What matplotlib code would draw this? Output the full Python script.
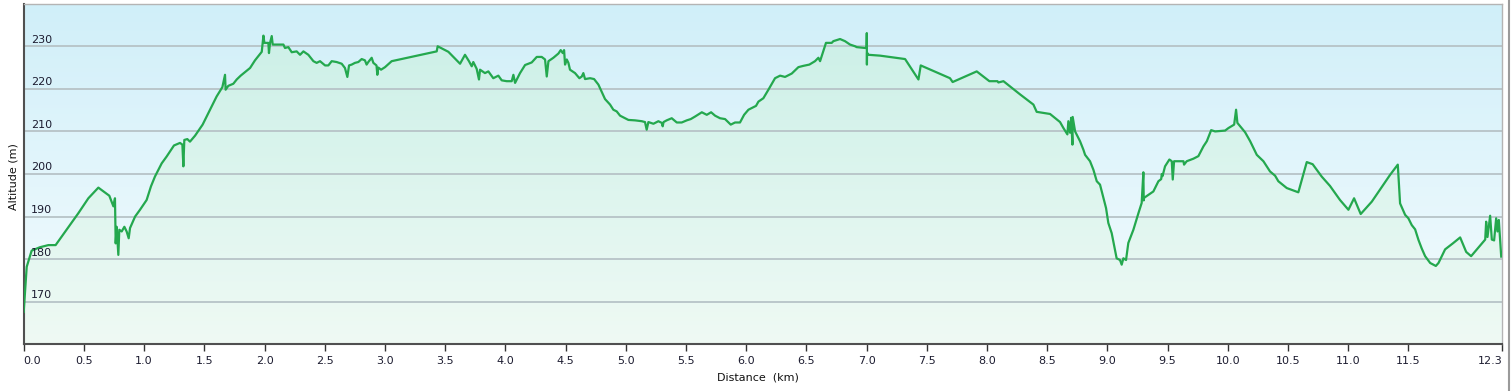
import numpy as np
import matplotlib
matplotlib.use('Agg')
import matplotlib.pyplot as plt
from matplotlib.colors import to_rgb
from matplotlib.patches import Polygon
from matplotlib.transforms import blended_transform_factory
from matplotlib.lines import Line2D

# altitude profile (distance in km, altitude in m)
dist_km = [
    0.000, 0.025, 0.066, 0.135, 0.205, 0.265, 0.454, 0.537, 0.620, 0.711,
    0.745, 0.758, 0.764, 0.772, 0.786, 0.794, 0.814, 0.836, 0.855, 0.872,
    0.883, 0.925, 0.966, 1.021, 1.057, 1.090, 1.146, 1.187, 1.248, 1.298,
    1.318, 1.326, 1.334, 1.359, 1.381, 1.423, 1.486, 1.547, 1.602, 1.650,
    1.672, 1.677, 1.699, 1.741, 1.769, 1.802, 1.880, 1.921, 1.977, 1.991,
    1.999, 2.032, 2.037, 2.046, 2.060, 2.068, 2.157, 2.170, 2.198, 2.226,
    2.267, 2.295, 2.323, 2.364, 2.406, 2.433, 2.461, 2.503, 2.530, 2.558,
    2.599, 2.641, 2.668, 2.688, 2.702, 2.724, 2.751, 2.779, 2.807, 2.834,
    2.848, 2.862, 2.890, 2.904, 2.930, 2.937, 2.945, 2.968, 3.001, 3.056,
    3.430, 3.438, 3.527, 3.624, 3.665, 3.698, 3.721, 3.734, 3.762, 3.781,
    3.790, 3.831, 3.859, 3.900, 3.942, 3.970, 4.011, 4.053, 4.067, 4.081,
    4.122, 4.164, 4.219, 4.261, 4.302, 4.330, 4.344, 4.358, 4.399, 4.441,
    4.460, 4.477, 4.488, 4.496, 4.510, 4.524, 4.537, 4.579, 4.615, 4.635,
    4.648, 4.662, 4.704, 4.737, 4.773, 4.828, 4.870, 4.897, 4.925, 4.953,
    4.994, 5.022, 5.077, 5.133, 5.160, 5.174, 5.188, 5.230, 5.271, 5.300,
    5.307, 5.314, 5.340, 5.382, 5.424, 5.465, 5.507, 5.540, 5.576, 5.632,
    5.673, 5.709, 5.742, 5.783, 5.825, 5.872, 5.908, 5.949, 5.983, 6.019,
    6.082, 6.102, 6.143, 6.185, 6.240, 6.282, 6.323, 6.379, 6.434, 6.475,
    6.525, 6.572, 6.600, 6.614, 6.663, 6.711, 6.724, 6.780, 6.821, 6.863,
    6.905, 6.918, 6.988, 7.000, 7.002, 7.003, 7.004, 7.016, 7.112, 7.320,
    7.431, 7.450, 7.693, 7.715, 7.915, 8.020, 8.087, 8.095, 8.137, 8.275,
    8.386, 8.413, 8.524, 8.607, 8.635, 8.668, 8.676, 8.690, 8.699, 8.706,
    8.710, 8.712, 8.732, 8.773, 8.801, 8.815, 8.856, 8.884, 8.912, 8.939,
    8.967, 8.989, 9.008, 9.036, 9.058, 9.077, 9.105, 9.119, 9.133, 9.155,
    9.174, 9.216, 9.258, 9.285, 9.299, 9.302, 9.305, 9.341, 9.382, 9.424,
    9.447, 9.452, 9.458, 9.479, 9.515, 9.535, 9.543, 9.554, 9.632, 9.637,
    9.659, 9.715, 9.756, 9.798, 9.826, 9.862, 9.895, 9.978, 10.006, 10.053,
    10.069, 10.080, 10.144, 10.186, 10.241, 10.296, 10.351, 10.393, 10.420, 10.490,
    10.586, 10.656, 10.705, 10.780, 10.849, 10.932, 11.002, 11.049, 11.104, 11.196,
    11.348, 11.412, 11.431, 11.473, 11.500, 11.528, 11.556, 11.584, 11.611, 11.639,
    11.681, 11.728, 11.750, 11.805, 11.869, 11.930, 11.980, 12.021, 12.138, 12.146,
    12.157, 12.179, 12.193, 12.212, 12.229, 12.240, 12.251, 12.262, 12.271,
]
alt_m = [
    167.6, 178.2, 182.0, 182.8, 183.3, 183.3, 190.8, 194.3, 196.8, 194.9,
    192.4, 194.3, 183.7, 187.6, 181.0, 186.9, 186.5, 187.6, 186.5, 184.9,
    187.3, 190.0, 191.6, 193.9, 197.1, 199.4, 202.5, 204.1, 206.7, 207.3,
    206.9, 201.8, 208.0, 208.2, 207.6, 209.0, 211.6, 215.1, 218.2, 220.4,
    223.3, 219.8, 220.7, 221.2, 222.2, 223.1, 224.9, 226.7, 228.7, 232.5,
    230.8, 230.8, 228.4, 230.8, 232.4, 230.4, 230.4, 229.6, 229.8, 228.6,
    228.8, 228.0, 228.8, 228.0, 226.5, 226.1, 226.5, 225.5, 225.5, 226.5,
    226.3, 225.9, 224.9, 222.8, 225.5, 225.7, 226.1, 226.3, 227.0, 226.7,
    225.7, 226.3, 227.3, 226.1, 225.5, 223.3, 225.0, 224.5, 225.1, 226.5,
    228.8, 230.0, 228.7, 225.9, 228.0, 226.5, 225.3, 226.3, 224.7, 222.2,
    224.5, 223.7, 224.1, 222.5, 223.1, 222.0, 221.8, 221.8, 223.3, 221.4,
    223.7, 225.6, 226.2, 227.5, 227.5, 226.9, 222.9, 226.5, 227.3, 228.3,
    229.1, 228.4, 229.1, 225.7, 226.9, 226.1, 224.5, 223.7, 222.5, 222.9,
    223.7, 222.3, 222.5, 222.3, 221.0, 217.6, 216.3, 215.1, 214.7, 213.7,
    213.1, 212.7, 212.6, 212.4, 212.2, 210.4, 212.2, 211.8, 212.4, 212.0,
    211.2, 212.2, 212.6, 213.1, 212.1, 212.1, 212.6, 212.9, 213.5, 214.5,
    213.9, 214.5, 213.7, 213.1, 212.9, 211.6, 212.1, 212.1, 213.9, 215.1,
    216.0, 217.0, 217.8, 219.8, 222.5, 223.1, 222.8, 223.6, 225.1, 225.4,
    225.7, 226.5, 227.3, 226.5, 230.8, 230.8, 231.2, 231.7, 231.2, 230.4,
    230.0, 229.8, 229.6, 229.6, 233.1, 225.7, 228.5, 228.0, 227.8, 227.0,
    222.2, 225.5, 222.5, 221.6, 224.1, 221.8, 221.8, 221.5, 221.8, 218.7,
    216.3, 214.6, 214.1, 212.2, 210.8, 209.3, 212.4, 209.7, 213.2, 209.5,
    206.9, 213.4, 210.0, 207.7, 205.7, 204.5, 203.0, 201.0, 198.3, 197.5,
    194.4, 192.0, 188.5, 186.1, 183.0, 180.2, 179.8, 178.7, 180.2, 179.8,
    183.8, 186.9, 190.8, 193.2, 200.4, 193.8, 194.4, 195.1, 195.9, 198.3,
    198.8, 200.0, 199.5, 201.8, 203.4, 203.0, 198.7, 203.0, 203.0, 202.2,
    203.0, 203.6, 204.2, 206.5, 207.7, 210.3, 210.0, 210.2, 210.8, 211.6,
    215.1, 212.0, 209.8, 207.7, 204.5, 203.0, 200.6, 199.6, 198.3, 196.7,
    195.7, 202.8, 202.3, 199.4, 197.2, 193.9, 191.6, 194.3, 190.6, 193.5,
    199.8, 202.2, 193.1, 190.4, 189.6, 188.0, 187.0, 184.5, 182.5, 180.7,
    179.1, 178.4, 179.1, 182.3, 183.7, 185.1, 181.7, 180.7, 184.6, 188.8,
    185.2, 190.2, 184.6, 184.4, 189.6, 186.5, 189.2, 184.4, 180.6,
]

total_km = 12.28
x_ticks = [0.0, 0.5, 1.0, 1.5, 2.0, 2.5, 3.0, 3.5, 4.0, 4.5, 5.0, 5.5,
           6.0, 6.5, 7.0, 7.5, 8.0, 8.5, 9.0, 9.5, 10.0, 10.5, 11.0, 11.5]
y_labels = [170, 180, 190, 200, 210, 220, 230]
y_min, y_max = 160, 240


def vgradient(top, bottom, n=256):
    t = np.linspace(0, 1, n)[:, None]
    c = np.array(to_rgb(top)) * (1 - t) + np.array(to_rgb(bottom)) * t
    return c[:, None, :]


fig = plt.figure(figsize=(15.11, 3.91), dpi=100)
ax = fig.add_axes([23.7 / 1511, 46.7 / 391, 1478.6 / 1511, 340.6 / 391])
ax.set_xlim(0, total_km)
ax.set_ylim(y_min, y_max)

# sky background
ax.imshow(vgradient('#d0eff9', '#f5fcfe'), extent=[0, total_km, y_min, y_max],
          aspect='auto', origin='upper', zorder=0, interpolation='bilinear')

# area under the profile, gradient clipped to the profile polygon
xs = np.array(dist_km)
ys = np.array(alt_m)
verts = np.column_stack([np.r_[xs[0], xs, xs[-1]], np.r_[y_min, ys, y_min]])
poly = Polygon(verts, closed=True, facecolor='none', edgecolor='none')
ax.add_patch(poly)
fill = ax.imshow(vgradient('#c8efe4', '#eefaf3'), extent=[0, total_km, y_min, y_max],
                 aspect='auto', origin='upper', zorder=1, alpha=0.85,
                 interpolation='bilinear')
fill.set_clip_path(poly)

# grid drawn over the fill
for v in y_labels:
    ax.axhline(v, color='#b7c3c7', lw=1.3, zorder=2)

ax.plot(xs, ys, color='#24a84e', lw=1.6, zorder=3, solid_joinstyle='round')

# y labels sit inside the plot, above their gridline
trans = blended_transform_factory(ax.transAxes, ax.transData)
for v in y_labels:
    ax.text(0.0049, v + 0.85, str(v), transform=trans, ha='left', va='baseline',
            fontsize=8, color='#1c1c30', zorder=4)

ax.set_yticks([])
ticks = x_ticks + [total_km]
ax.set_xticks(ticks)
ax.set_xticklabels([f'{t:.1f}' for t in ticks])
labels = ax.get_xticklabels()
labels[0].set_horizontalalignment('left')
labels[-1].set_horizontalalignment('right')
ax.tick_params(axis='x', direction='out', length=5, width=1, color='#333333',
               labelsize=8, labelcolor='#1c1c30', pad=3.5)

for side in ('left', 'bottom'):
    ax.spines[side].set_color('#505050')
    ax.spines[side].set_linewidth(1.5)
for side in ('top', 'right'):
    ax.spines[side].set_color('#b4b4b4')
    ax.spines[side].set_linewidth(1.0)

fig.text(14 / 1511, 1 - 177 / 391, 'Altitude (m)', rotation=90, ha='center',
         va='center', fontsize=8, color='#111111')
fig.text(758 / 1511, 1 - 378 / 391, 'Distance  (km)', ha='center', va='center',
         fontsize=8, color='#111111')

fig.add_artist(Line2D([1509 / 1511, 1509 / 1511], [0, 1], transform=fig.transFigure,
                      color='#9a9a9a', lw=1.5))

fig.savefig('out.png', dpi=100)
